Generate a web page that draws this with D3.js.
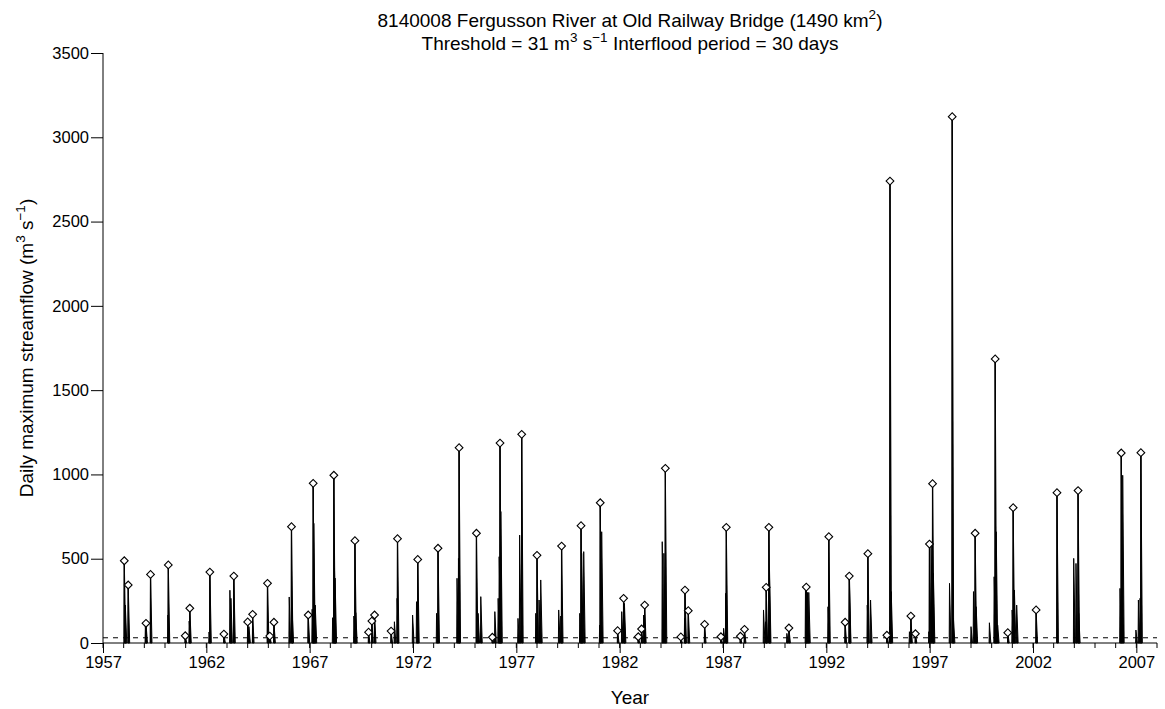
<!DOCTYPE html>
<html>
<head>
<meta charset="utf-8">
<script src="https://cdn.jsdelivr.net/npm/d3@7"></script>
<style>
	body { margin: 0; background: #fff; }
	text { font-family: 'Liberation Sans', Arial, sans-serif; fill: #000; }
</style>
</head>
<body>
<div id="chart"></div>
<script>
// flood peaks above threshold (decimal year, m3/s) - the diamonds
const peakYears = [
	1958.03, 1958.22, 1959.08, 1959.30, 1960.16, 1960.98, 1961.20, 1962.17, 1962.85, 1963.33,
	1964.00, 1964.24, 1964.96, 1965.07, 1965.27, 1966.12, 1966.93, 1967.17, 1968.17, 1969.19,
	1969.85, 1970.01, 1970.14, 1970.94, 1971.25, 1972.23, 1973.21, 1974.23, 1975.07, 1975.84,
	1976.21, 1977.26, 1978.00, 1979.19, 1980.13, 1981.06, 1981.90, 1982.19, 1982.90, 1983.06,
	1983.21, 1984.21, 1984.96, 1985.16, 1985.32, 1986.11, 1986.90, 1987.16, 1987.84, 1988.04,
	1989.09, 1989.22, 1990.19, 1991.03, 1992.12, 1992.91, 1993.11, 1994.01, 1994.93, 1995.08,
	1996.09, 1996.31, 1996.99, 1997.14, 1998.09, 1999.20, 2000.17, 2000.78, 2001.04, 2002.15,
	2003.16, 2004.18, 2006.27, 2007.22
];
const peakFlows = [
	488, 344, 117, 407, 463, 43, 206, 421, 53, 397,
	125, 170, 354, 41, 123, 690, 166, 947, 995, 607,
	64, 130, 166, 71, 619, 496, 562, 1159, 651, 34,
	1186, 1238, 520, 575, 696, 832, 73, 265, 37, 83,
	225, 1036, 36, 314, 192, 111, 37, 686, 40, 81,
	330, 686, 89, 332, 631, 123, 397, 530, 46, 2740,
	160, 55, 587, 945, 3122, 651, 1685, 61, 803, 196,
	892, 904, 1127, 1129
];

// other daily flow spikes of the wet seasons (decimal year, m3/s)
const spikeYears = [
	1958.08, 1959.05, 1960.14, 1961.17, 1962.13, 1963.14, 1963.19, 1964.06, 1966.01, 1966.15,
	1967.12, 1967.20, 1967.27, 1968.11, 1968.20, 1968.23, 1969.14, 1969.23, 1971.10, 1971.23,
	1971.98, 1972.17, 1973.14, 1974.13, 1974.20, 1975.15, 1975.28, 1975.96, 1976.12, 1976.17,
	1976.25, 1977.08, 1977.16, 1977.94, 1978.10, 1978.18, 1979.05, 1979.15, 1980.07, 1980.16,
	1980.26, 1981.03, 1981.13, 1982.10, 1982.23, 1983.16, 1984.06, 1984.14, 1985.14, 1987.03,
	1987.13, 1988.96, 1989.06, 1989.25, 1990.09, 1990.99, 1991.09, 1991.15, 1992.08, 1993.12,
	1993.98, 1994.14, 1995.06, 1995.14, 1996.02, 1996.96, 1997.07, 1997.18, 1997.96, 1998.15,
	1999.00, 1999.12, 1999.25, 1999.89, 2000.12, 2000.22, 2000.29, 2000.99, 2001.10, 2001.21,
	2003.97, 2004.08, 2004.21, 2006.21, 2006.34, 2006.98, 2007.10, 2007.18
];
const spikeFlows = [
	225, 97, 166, 130, 65, 313, 265, 97, 273, 192,
	200, 710, 225, 150, 445, 385, 160, 180, 126, 265,
	166, 245, 176, 384, 502, 176, 275, 186, 265, 512,
	780, 146, 640, 176, 255, 374, 196, 160, 176, 532,
	542, 106, 660, 186, 235, 166, 601, 532, 146, 87,
	295, 196, 126, 433, 57, 314, 300, 300, 215, 384,
	225, 255, 97, 305, 67, 67, 590, 413, 354, 146,
	97, 305, 215, 120, 393, 660, 106, 196, 314, 225,
	502, 472, 176, 324, 995, 77, 255, 265
];

const threshold = 31;
const yTickValues = [0, 500, 1000, 1500, 2000, 2500, 3000, 3500];
const xMajorTicks = [1957, 1962, 1967, 1972, 1977, 1982, 1987, 1992, 1997, 2002, 2007];
const xMinorTicks = d3.range(1957, 2009);

const width = 1165;
const height = 709;
const margin = {top: 53, right: 8, bottom: 66, left: 103};

const svg = d3.select('#chart')
	.append('svg')
		.attr('width', width)
		.attr('height', height);

svg.append('rect')
	.attr('width', width)
	.attr('height', height)
	.attr('fill', '#fff');

const x = d3.scaleLinear()
	.domain([1957, 2008])
	.range([margin.left, width - margin.right]);
const y = d3.scaleLinear()
	.domain([0, 3500])
	.range([height - margin.bottom, margin.top]);

const y0 = y(0);
const plot = svg.append('g').attr('class', 'plot');

// wet-season spikes, drawn as thin wedges (fast rise, slower recession)
const spikes = d3.zip(spikeYears, spikeFlows)
	.concat(d3.zip(peakYears, peakFlows))
	.sort((a, b) => a[0] - b[0]);

plot.selectAll('.spike')
	.data(spikes)
	.enter()
		.append('path')
			.attr('class', 'spike')
			.attr('d', d => {
				const p = d3.path();
				p.moveTo(x(d[0] - 0.015), y0);
				p.lineTo(x(d[0]), y(d[1]));
				p.lineTo(x(d[0] + 0.07), y0);
				p.closePath();
				return p.toString();
			})
			.style('fill', '#000')
			.style('stroke', '#000')
			.style('stroke-width', 1)
			.style('stroke-linejoin', 'round');

// peak stems
plot.selectAll('.stem')
	.data(d3.zip(peakYears, peakFlows))
	.enter()
		.append('line')
			.attr('class', 'stem')
			.attr('x1', d => x(d[0]))
			.attr('x2', d => x(d[0]))
			.attr('y1', y0)
			.attr('y2', d => y(d[1]))
			.style('stroke', '#000')
			.style('stroke-width', 1.3);

// threshold
plot.append('line')
	.attr('x1', x(1957))
	.attr('x2', x(2008))
	.attr('y1', y(threshold))
	.attr('y2', y(threshold))
	.style('stroke', '#000')
	.style('stroke-width', 1)
	.style('stroke-dasharray', '5,5');

// peak markers (open diamonds)
const diamond = d3.symbol().type(d3.symbolSquare).size(30);
plot.selectAll('.peak')
	.data(d3.zip(peakYears, peakFlows))
	.enter()
		.append('path')
			.attr('class', 'peak')
			.attr('transform', d => `translate(${x(d[0])},${y(d[1])}) rotate(45)`)
			.attr('d', diamond)
			.style('fill', '#fff')
			.style('stroke', '#000')
			.style('stroke-width', 1.1);

// axes
const yAxis = d3.axisLeft(y)
	.tickValues(yTickValues)
	.tickSize(12)
	.tickPadding(2)
	.tickFormat(d3.format('d'));
const gy = svg.append('g')
	.attr('transform', `translate(${margin.left},0)`)
	.call(yAxis);
gy.select('.domain').attr('d', `M0,${y(3500)}V${y(0)}`);

const xAxis = d3.axisBottom(x)
	.tickValues(xMajorTicks)
	.tickSize(10)
	.tickPadding(3)
	.tickFormat(d3.format('d'));
const gx = svg.append('g')
	.attr('transform', `translate(0,${y0})`)
	.call(xAxis);
gx.select('.domain').attr('d', `M${x(1957)},0H${x(2008)}`);
gx.selectAll('.minor')
	.data(xMinorTicks)
	.enter()
		.append('line')
			.attr('class', 'minor')
			.attr('x1', d => x(d))
			.attr('x2', d => x(d))
			.attr('y1', 0)
			.attr('y2', 5)
			.style('stroke', '#000');

svg.selectAll('.domain, .tick line')
	.style('stroke', '#000')
	.style('stroke-width', 1);
svg.selectAll('.tick text')
	.style('font-size', '16.5px')
	.style('font-family', "'Liberation Sans', Arial, sans-serif")
	.style('fill', '#000');

// titles
const cx = (x(1957) + x(2008)) / 2;
const t1 = svg.append('text')
	.attr('x', cx)
	.attr('y', 27)
	.attr('text-anchor', 'middle')
	.style('font-size', '19px');
t1.append('tspan').text('8140008 Fergusson River at Old Railway Bridge (1490 km');
t1.append('tspan').attr('dy', -8).style('font-size', '13.5px').text('2');
t1.append('tspan').attr('dy', 8).text(')');

const t2 = svg.append('text')
	.attr('x', cx)
	.attr('y', 50)
	.attr('text-anchor', 'middle')
	.style('font-size', '19px');
t2.append('tspan').text('Threshold = 31 m');
t2.append('tspan').attr('dy', -8).style('font-size', '13.5px').text('3');
t2.append('tspan').attr('dy', 8).text(' s');
t2.append('tspan').attr('dy', -8).style('font-size', '13.5px').text('\u22121');
t2.append('tspan').attr('dy', 8).text(' Interflood period = 30 days');

svg.append('text')
	.attr('x', cx)
	.attr('y', 704)
	.attr('text-anchor', 'middle')
	.style('font-size', '19px')
	.text('Year');

const yl = svg.append('text')
	.attr('transform', `translate(33,${(y(0) + y(3500)) / 2}) rotate(-90)`)
	.attr('text-anchor', 'middle')
	.style('font-size', '19px');
yl.append('tspan').text('Daily maximum streamflow (m');
yl.append('tspan').attr('dy', -8).style('font-size', '13.5px').text('3');
yl.append('tspan').attr('dy', 8).text(' s');
yl.append('tspan').attr('dy', -8).style('font-size', '13.5px').text('\u22121');
yl.append('tspan').attr('dy', 8).text(')');
</script>
</body>
</html>
